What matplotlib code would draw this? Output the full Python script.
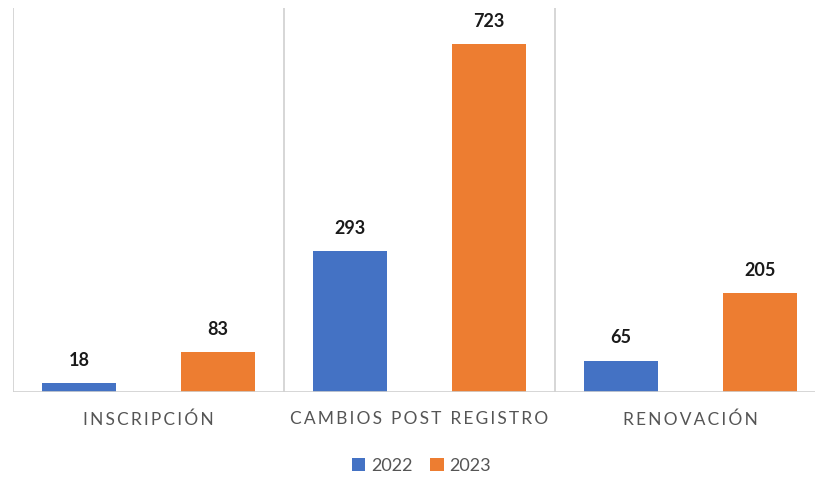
import numpy as np
import matplotlib.pyplot as plt

categories = ['INSCRIPCIÓN', 'CAMBIOS POST REGISTRO', 'RENOVACIÓN']
series_names = ['2022', '2023']
values_2022 = [18, 293, 65]
values_2023 = [83, 723, 205]

blue = '#4472C4'
orange = '#ED7D31'
fams = ['Lato', 'DejaVu Sans']


def spaced(s):
    # fake letter spacing with thin spaces
    return '\u2009'.join(list(s)).replace('\u2009 \u2009', '  ')


fig = plt.figure(figsize=(8.15, 4.78), dpi=100)
ax = fig.add_axes([13/815, 86/478, 813/815, 384/478])

x = np.arange(len(categories))
w = 0.273
off = 0.257
b1 = ax.bar(x - off, values_2022, w, color=blue, label=series_names[0])
b2 = ax.bar(x + off, values_2023, w, color=orange, label=series_names[1])

for bars in (b1, b2):
    for r in bars:
        h = r.get_height()
        ax.text(r.get_x() + r.get_width()/2, h + 30, str(int(h)), ha='center', va='bottom',
                fontsize=13, fontweight='bold', color='#1a1a1a', family=fams)

ax.set_xlim(-0.5, 2.5)
ax.set_ylim(0, 798)
for b in [-0.5, 0.5, 1.5, 2.5]:
    ax.axvline(b, color='#d0d0d0', lw=1.2, zorder=0)
ax.axhline(0, color='#d0d0d0', lw=1.2)

for s in ax.spines.values():
    s.set_visible(False)
ax.set_yticks([])
ax.set_xticks(x)
ax.set_xticklabels([spaced(c) for c in categories], fontsize=12.5, color='#555555', family=fams)
ax.tick_params(axis='x', length=0, pad=14)

fig.legend(handles=[b1, b2], loc='center', bbox_to_anchor=(0.517, 1 - 466/478), ncol=2,
           frameon=False, handlelength=0.75, handleheight=0.75, handletextpad=0.3,
           columnspacing=1.0, prop={'family': fams, 'size': 13}, labelcolor='#555555')

fig.savefig('out.png', dpi=100, facecolor='white')
